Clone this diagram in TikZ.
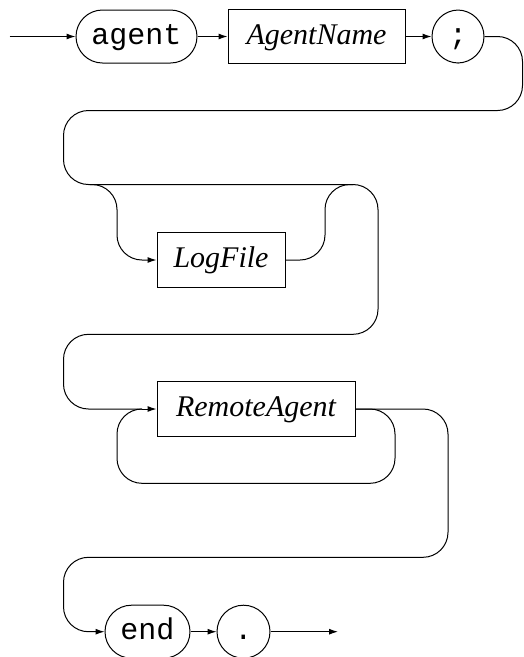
\documentclass[tikz,border=0pt]{standalone}
\usepackage{fontspec}
\setmainfont{Liberation Serif}
\setmonofont{Liberation Mono}
\usetikzlibrary{arrows.meta}

\tikzset{
  rail/.style={line width=1pt,rounded corners=25pt},
  railarrow/.style={rail,-{Latex[length=9pt,width=6pt]}},
  nonterm/.style={draw,line width=1pt,inner sep=0pt,minimum height=54.5pt,
    text height=21pt,text depth=6pt,
    font=\fontsize{30}{36}\selectfont\itshape},
  term/.style={draw,line width=1pt,inner sep=0pt,rounded corners=26.5pt,
    minimum height=53pt,minimum width=53pt,
    text height=21pt,text depth=6pt,
    font=\fontsize{30}{36}\selectfont\ttfamily}
}

\begin{document}
\begin{tikzpicture}[x=1pt,y=-1pt]
\useasboundingbox (0,0) rectangle (523,657);

% Ligne 1
\coordinate (start) at (9.5,36.5);
\node[term,minimum width=121pt] (agent) at (136.5,36.5) {agent};
\node[nonterm,minimum width=177pt] (agentname) at (316.5,36.5) {AgentName};
\node[term,minimum width=52pt] (semi) at (458,36.5) {;};

\draw[railarrow] (start) -- (agent.west);
\draw[railarrow] (agent.east) -- (agentname.west);
\draw[railarrow] (agentname.east) -- (semi.west);

% LogFile optionnel
\node[nonterm,minimum width=128pt] (logfile) at (221,260) {LogFile};
\coordinate (split1) at (90,184.5);
\coordinate (join1) at (353,184.5);

\draw[rail]
(semi.east)
-- (522.5,36.5)
-- (522.5,110.5)
-- (63.5,110.5)
-- (63.5,184.5)
-- (378,184.5)
-- (378,334.3)
-- (63.5,334.3)
-- (63.5,409)
-- (142,409);

\draw[railarrow]
(split1)
-- (117,184.5)
-- (117,260)
-- (logfile.west);

\draw[rail]
(logfile.east)
-- (325,260)
-- (325,184.5)
-- (join1);

% RemoteAgent (une ou plusieurs fois)
\node[nonterm,minimum width=198pt] (remote) at (256,409) {RemoteAgent};

\draw[railarrow] (142,409) -- (remote.west);

\draw[rail]
(remote.east)
-- (395,409)
-- (395,483.3)
-- (117,483.3)
-- (117,409)
-- (142,409);

% Fin
\node[term,minimum width=85pt] (end) at (147.5,631.7) {end};
\node[term] (dot) at (243.5,631.7) {.};
\coordinate (exit) at (338,631.7);

\draw[railarrow]
(remote.east)
-- (448,409)
-- (448,557.3)
-- (63.5,557.3)
-- (63.5,631.7)
-- (end.west);

\draw[railarrow] (end.east) -- (dot.west);
\draw[railarrow] (dot.east) -- (exit);

\end{tikzpicture}
\end{document}
